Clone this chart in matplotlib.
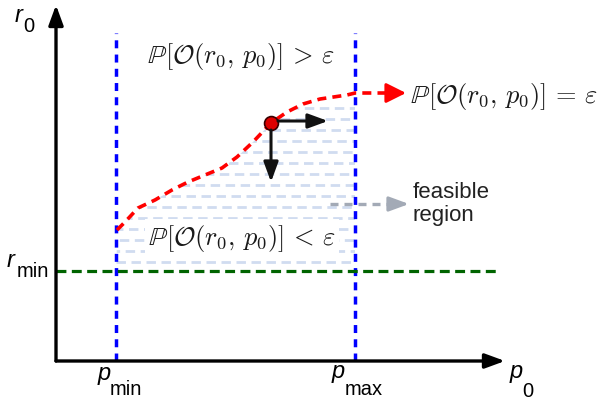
import numpy as np
import matplotlib.pyplot as plt
from matplotlib.patches import Polygon

# === Schematic values (p0 / r0 units, origin at the axes corner) ===
p_min, p_max = 60, 299
r_min = 90
guide_top = 328
axis_tip_p, axis_tip_r = 449, 356

# boundary curve P[O(r0, p0)] = eps
curve_p = [61, 69, 82, 99, 116, 132, 149, 166, 181, 197, 215, 231, 247, 264, 291, 299, 335]
curve_r = [131, 139, 153, 161, 171, 179, 186, 193, 204, 219, 238, 249, 257, 262, 266, 268, 268]
point_p, point_r = 215, 238

hatch_rows = np.arange(99, 256, 11.0)

plt.rcParams['font.family'] = ['Liberation Sans', 'DejaVu Sans']

fig = plt.figure(figsize=(6.05, 4.03), dpi=100)
ax = fig.add_axes([0, 0, 1, 1])
ax.set_xlim(-56, 549)
ax.set_ylim(-42, 361)
ax.axis('off')

# === Feasible region hatch (clipped under the curve) ===
region = Polygon(list(zip([p_min] + curve_p[:-2] + [p_max, p_max],
                          [r_min + 4] + curve_r[:-2] + [curve_r[-2], r_min + 4])),
                 closed=True, facecolor='none', edgecolor='none')
ax.add_patch(region)
for i, rr in enumerate(hatch_rows):
    ln, = ax.plot([p_min, p_max], [rr, rr], color='#d0dcf0', lw=2.0,
                  linestyle=((i * 2.1) % 5.4, (3.4, 2.0)), dash_capstyle='butt', zorder=1)
    ln.set_clip_path(region)

# === Guide lines ===
for pv in [p_min, p_max]:
    ax.plot([pv, pv], [0, guide_top], color='#0000ff', lw=2.5, dashes=(2.3, 1.8), zorder=3)
ax.plot([0, 444], [r_min, r_min], color='#006400', lw=2.3, dashes=(3.1, 1.7), zorder=3)

# === Axes with arrows ===
head = '-|>,head_length=0.6,head_width=0.22'
for tip in [(0, axis_tip_r), (axis_tip_p, 0)]:
    ax.annotate('', xy=tip, xytext=(0, 0),
                arrowprops=dict(arrowstyle=head, color='black', lw=2.4,
                                mutation_scale=20, shrinkA=0, shrinkB=0), zorder=5)

# === Boundary curve ===
ax.plot(curve_p, curve_r, color='red', lw=2.6, dashes=(2.5, 1.7), zorder=4)
ax.annotate('', xy=(350, 268), xytext=(333, 268),
            arrowprops=dict(arrowstyle='-|>,head_length=0.6,head_width=0.3', color='red', lw=2.2,
                            mutation_scale=20, shrinkA=0, shrinkB=0), zorder=4)
ax.plot([point_p], [point_r], 'o', ms=10, color='#dd0000', mec='#3a0000', mew=1.2, zorder=6)

# directions from the point
ax.annotate('', xy=(point_p + 57, point_r + 2), xytext=(point_p + 7, point_r + 2),
            arrowprops=dict(arrowstyle=head, color='#111111', lw=2.2,
                            mutation_scale=20, shrinkA=0, shrinkB=0), zorder=6)
ax.annotate('', xy=(point_p, point_r - 59), xytext=(point_p, point_r - 7),
            arrowprops=dict(arrowstyle=head, color='#111111', lw=2.2,
                            mutation_scale=20, shrinkA=0, shrinkB=0), zorder=6)

# feasible region pointer
ax.plot([274, 340], [157, 157], color='#a3aab6', lw=2.4, dashes=(2.4, 1.8), zorder=4)
ax.annotate('', xy=(353, 157), xytext=(337, 157),
            arrowprops=dict(arrowstyle=head, color='#a3aab6', lw=2.2,
                            mutation_scale=20, shrinkA=0, shrinkB=0), zorder=4)
ax.text(357, 157, 'feasible\nregion', ha='left', va='center', fontsize=16,
        color='#222222', linespacing=1.1)

# === Formulas ===
fsize = 19
ax.text(185, 305, r'$\mathbb{P}[\mathcal{O}(r_0,\,p_0)]\,>\,\varepsilon$', ha='center', va='center',
        fontsize=fsize, math_fontfamily='cm', color='#1a1a1a')
ax.text(354, 264, r'$\mathbb{P}[\mathcal{O}(r_0,\,p_0)]\,=\,\varepsilon$', ha='left', va='center',
        fontsize=fsize, math_fontfamily='cm', color='#1a1a1a')
ax.text(186, 123, r'$\mathbb{P}[\mathcal{O}(r_0,\,p_0)]\,<\,\varepsilon$', ha='center', va='center',
        fontsize=fsize, math_fontfamily='cm', color='#1a1a1a', zorder=2,
        bbox=dict(boxstyle='square,pad=0.12', fc='white', ec='none'))

# === Axis labels ===
def label(p, r, main, sub, dp, dr):
    ax.text(p, r, main, style='italic', fontsize=17, ha='left', va='baseline')
    ax.text(p + dp, r + dr, sub, fontsize=14.5, ha='left', va='baseline')

label(-41, 339, 'r', '0', 8, -10)
label(-49, 94, 'r', 'min', 10, -10)
label(42, -19, 'p', 'min', 12, -15)
label(276, -17, 'p', 'max', 13, -17)
label(454, -17, 'p', '0', 12, -19)

plt.savefig('out.png', dpi=100)
plt.close()
